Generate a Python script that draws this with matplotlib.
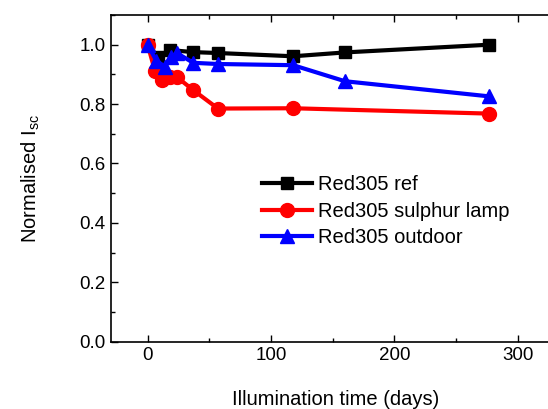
import matplotlib
matplotlib.use("Agg")
import matplotlib.pyplot as plt
from matplotlib.ticker import MultipleLocator

plt.rcParams['font.family'] = ['Liberation Sans', 'DejaVu Sans']
plt.rcParams['mathtext.fontset'] = 'custom'
plt.rcParams['mathtext.rm'] = 'Liberation Sans'

# data
ref_days = [0, 8, 18, 37, 57, 118, 160, 277]
ref_isc = [1.0, 0.96, 0.982, 0.975, 0.972, 0.961, 0.974, 1.0]

lamp_days = [0, 6, 12, 18, 24, 37, 57, 118, 277]
lamp_isc = [1.0, 0.91, 0.88, 0.89, 0.89, 0.847, 0.785, 0.786, 0.768]

out_days = [0, 7, 14, 19, 24, 37, 57, 118, 160, 277]
out_isc = [1.0, 0.946, 0.926, 0.96, 0.971, 0.939, 0.935, 0.931, 0.877, 0.826]

W, H = 548, 409
fig = plt.figure(figsize=(W / 100, H / 100), dpi=100)
ax = fig.add_axes([110.7 / W, 67.3 / H, 450 / W, (341.7 - 15) / H])

ax.plot(ref_days, ref_isc, color='black', lw=3, marker='s', ms=9, label='Red305 ref')
ax.plot(lamp_days, lamp_isc, color='red', lw=3, marker='o', ms=10, label='Red305 sulphur lamp')
ax.plot(out_days, out_isc, color='blue', lw=3, marker='^', ms=10, label='Red305 outdoor')

ax.set_xlim(-30, 335)
ax.set_ylim(0, 1.1)
ax.xaxis.set_major_locator(MultipleLocator(100))
ax.xaxis.set_minor_locator(MultipleLocator(50))
ax.yaxis.set_major_locator(MultipleLocator(0.2))
ax.yaxis.set_minor_locator(MultipleLocator(0.1))
ax.tick_params(which='both', direction='in', top=True, right=True, labelsize=13.5, width=1)
ax.tick_params(which='major', length=5)
ax.tick_params(which='minor', length=3)
for s in ax.spines.values():
    s.set_linewidth(1.2)

ax.set_xlabel('Illumination time (days)', fontsize=14.5, labelpad=19)
ax.set_ylabel('Normalised I$_{\\mathrm{sc}}$', fontsize=14.5, labelpad=27)

ax.legend(loc='upper left', bbox_to_anchor=(261.7 / W, 1 - 175 / H),
          bbox_transform=fig.transFigure, frameon=False, fontsize=14.5,
          borderpad=0, borderaxespad=0, handlelength=2.5, handletextpad=0.3,
          labelspacing=0.38)

fig.savefig('out.png', dpi=100)
